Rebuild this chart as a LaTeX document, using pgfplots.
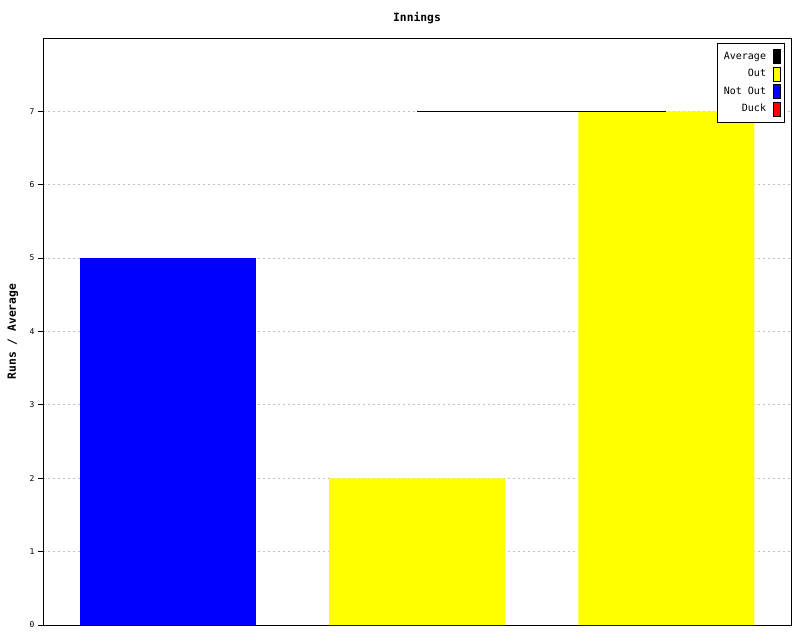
\documentclass[border=0pt]{standalone}
\usepackage{fontspec}
\setmainfont{DejaVu Sans Mono}
\usepackage{pgfplots}
\pgfplotsset{compat=1.18}
\definecolor{gridgray}{HTML}{C0C0C0}
\definecolor{outyellow}{HTML}{FFFF00}
\definecolor{notoutblue}{HTML}{0000FF}
\definecolor{duckred}{HTML}{FF0000}

\begin{document}
\begin{tikzpicture}
\useasboundingbox (0,0) rectangle (600pt,480pt);
\begin{axis}[
    at={(32.25pt,11.25pt)}, anchor=south west,
    scale only axis,
    width=561pt, height=440.25pt,
    xmin=-0.5, xmax=2.5,
    ymin=0, ymax=8,
    xtick=\empty,
    ytick={0,1,2,3,4,5,6,7},
    ytick pos=left,
    tick align=outside,
    major tick length=3.75pt,
    axis line style={line width=0.75pt},
    tick style={black, line width=0.75pt},
    /pgf/number format/assume math mode=true,
    yticklabel style={font=\fontsize{6}{6}\selectfont, inner sep=2.5pt},
    ymajorgrids=true,
    grid style={gridgray, line width=0.75pt, dash pattern=on 1.5pt off 2.25pt},
    title={\textbf{Innings}},
    title style={font=\fontsize{8.5}{9}\selectfont, at={(axis description cs:0.5,1)}, anchor=center, yshift=9pt},
    ylabel={\textbf{Runs / Average}},
    ylabel style={font=\fontsize{8.5}{9}\selectfont, at={(axis description cs:-0.0401,0.5)}, anchor=center},
    legend plot pos=right,
    legend cell align=right,
    legend style={at={(0.992,0.9915)}, anchor=north east, draw=black, line width=0.75pt, fill=white,
        font=\fontsize{7.5}{8}\selectfont, row sep=2pt, inner xsep=3pt, inner ysep=4.5pt},
]
\addlegendimage{legend image code/.code={\path (0pt,0pt); \draw[fill=black, draw=black, line width=0.5pt] (3pt,-5.25pt) rectangle (8.25pt,5.25pt);}}
\addlegendentry{Average}
\addlegendimage{legend image code/.code={\path (0pt,0pt); \draw[fill=outyellow, draw=black, line width=0.5pt] (3pt,-5.25pt) rectangle (8.25pt,5.25pt);}}
\addlegendentry{Out}
\addlegendimage{legend image code/.code={\path (0pt,0pt); \draw[fill=notoutblue, draw=black, line width=0.5pt] (3pt,-5.25pt) rectangle (8.25pt,5.25pt);}}
\addlegendentry{Not Out}
\addlegendimage{legend image code/.code={\path (0pt,0pt); \draw[fill=duckred, draw=black, line width=0.5pt] (3pt,-5.25pt) rectangle (8.25pt,5.25pt);}}
\addlegendentry{Duck}

\addplot[ybar, bar width=132pt, bar shift=0pt, fill=notoutblue, draw=none, forget plot]
    coordinates {(0,5)};
\addplot[ybar, bar width=132pt, bar shift=0pt, fill=outyellow, draw=none, forget plot]
    coordinates {(1,2) (2,7)};
\addplot[black, line width=0.75pt, mark=none, forget plot]
    coordinates {(1,7) (2,7)};
\end{axis}
\end{tikzpicture}
\end{document}
